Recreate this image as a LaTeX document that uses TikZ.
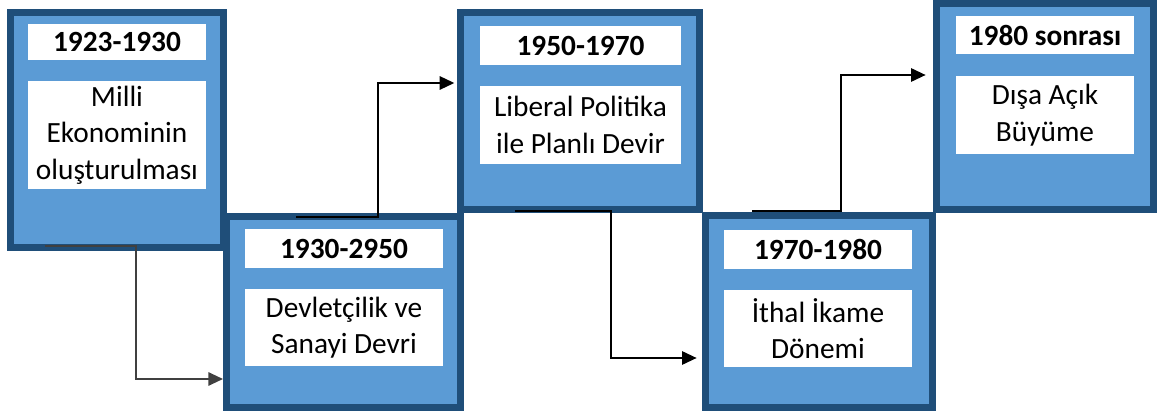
\documentclass[tikz,border=0pt]{standalone}
\usepackage{fontspec}
\setmainfont{Carlito}
\usetikzlibrary{arrows.meta,fit}
\definecolor{boxfill}{HTML}{5B9BD5}
\definecolor{boxline}{HTML}{1F4E79}
\definecolor{garrow}{HTML}{404040}
\begin{document}
\begin{tikzpicture}[x=0.75pt,y=-0.75pt,
 period/.style={draw=boxline,fill=boxfill,line width=5.25pt,inner sep=0pt},
 labelbox/.style={fill=white,inner sep=0pt},
 titletext/.style={font=\fontsize{22pt}{27pt}\selectfont\bfseries,inner sep=0pt},
 bodytext/.style={font=\fontsize{22pt}{27.4pt}\selectfont,align=center,inner sep=0pt},
 arr/.style={line width=1.5pt,-{Triangle[length=11pt,width=10pt]}},
]
\useasboundingbox (0,0) rectangle (1157,416);
% period boxes
\node[period,fit={(10.5,12.5)(223.5,247.5)}] (b1) {};
\node[period,fit={(460.5,12.5)(699.5,209.5)}] (b3) {};
\node[period,fit={(936.5,3.5)(1153.5,209.5)}] (b5) {};
\node[period,fit={(226.5,216.5)(460.5,407.5)}] (b2) {};
\node[period,fit={(705.5,215.5)(932.5,407.5)}] (b4) {};
% white label boxes
\node[labelbox,fit={(28,24)(206,60)}] (t1) {};
\node[labelbox,fit={(28,81)(206,189)}] (c1) {};
\node[labelbox,fit={(245,229)(443,268)}] (t2) {};
\node[labelbox,fit={(245,289)(443,366)}] (c2) {};
\node[labelbox,fit={(480,26)(681,65)}] (t3) {};
\node[labelbox,fit={(480,86)(681,164)}] (c3) {};
\node[labelbox,fit={(724,230)(912,269)}] (t4) {};
\node[labelbox,fit={(724,290)(912,367)}] (c4) {};
\node[labelbox,fit={(956,16)(1134,54)}] (t5) {};
\node[labelbox,fit={(956,76)(1134,154)}] (c5) {};
% texts
\node[titletext] (t1x) at (t1.center) {1923-1930};
\node[bodytext] (c1x) at (c1.center) {Milli\\Ekonominin\\oluşturulması};
\node[titletext] (t2x) at (t2.center) {1930-2950};
\node[bodytext] (c2x) at (c2.center) {Devletçilik ve\\Sanayi Devri};
\node[titletext] (t3x) at (t3.center) {1950-1970};
\node[bodytext] (c3x) at (c3.center) {Liberal Politika\\ile Planlı Devir};
\node[titletext] (t4x) at (t4.center) {1970-1980};
\node[bodytext] (c4x) at (c4.center) {İthal İkame\\Dönemi};
\node[titletext] (t5x) at (t5.center) {1980 sonrası};
\node[bodytext] (c5x) at (c5.center) {Dışa Açık\\Büyüme};
% connectors
\coordinate (a1s) at (45,246);
\coordinate (a1k) at (136,379);
\draw[arr,draw=garrow] (a1s) -| (a1k) -- (a1k -| b2.west);
\coordinate (a2s) at (296,217);
\coordinate (a2k) at (378,83);
\draw[arr,shorten >=2pt] (a2s) -| (a2k) -- (a2k -| b3.west);
\coordinate (a3s) at (515,211);
\coordinate (a3k) at (611,358);
\draw[arr,shorten >=4pt] (a3s) -| (a3k) -- (a3k -| b4.west);
\coordinate (a4s) at (752,211);
\coordinate (a4k) at (841,75);
\draw[arr,shorten >=5.5pt] (a4s) -| (a4k) -- (a4k -| b5.west);
\end{tikzpicture}
\end{document}
